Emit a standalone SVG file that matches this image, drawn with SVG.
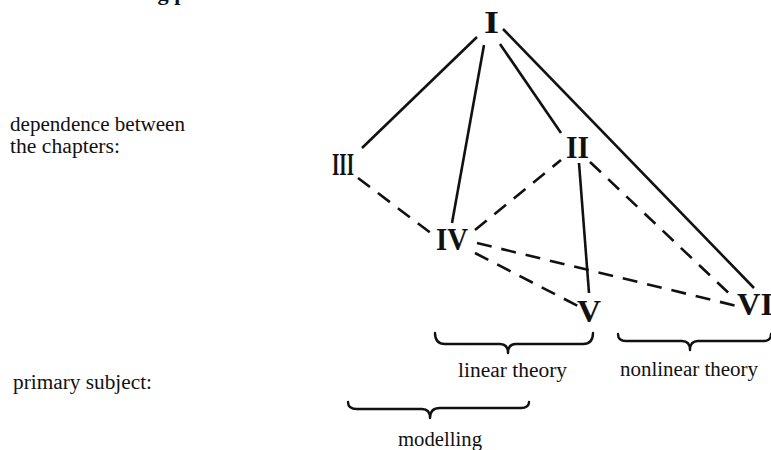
<svg xmlns="http://www.w3.org/2000/svg" width="771" height="450" viewBox="0 0 771 450">
  <style>
    .lbl { font-family: "Liberation Serif", "Times New Roman", serif; font-size: 20px; fill: #111; }
    .num { font-family: "Liberation Serif", "Times New Roman", serif; font-size: 31px; font-weight: bold; fill: #111; }
    .solid { stroke: #111; stroke-width: 2.6; fill: none; stroke-linecap: butt; }
    .dash { stroke: #111; stroke-width: 2.6; fill: none; stroke-dasharray: 15 10; }
    .brace { stroke: #111; stroke-width: 2.4; fill: none; stroke-linejoin: round; stroke-linecap: round; }
  </style>
  <rect width="771" height="450" fill="#fff"/>
  <text x="5" y="0" font-family="Liberation Serif, serif" font-size="20" font-weight="bold" fill="#111" textLength="210" lengthAdjust="spacingAndGlyphs">Hints for reading part</text>

  <g id="connectors">
    <line class="solid" x1="477" y1="37" x2="362" y2="148"/>
    <line class="solid" x1="484" y1="45" x2="452" y2="223"/>
    <line class="solid" x1="500" y1="44" x2="561" y2="133"/>
    <line class="solid" x1="503" y1="29" x2="754" y2="288"/>
    <line class="solid" x1="579" y1="163" x2="589" y2="293"/>
    <line class="dash" x1="358" y1="178" x2="436" y2="237"/>
    <line class="dash" x1="475" y1="230" x2="561" y2="160"/>
    <line class="dash" x1="590" y1="162" x2="735" y2="299"/>
    <line class="dash" x1="477" y1="243" x2="737" y2="306"/>
    <line class="dash" x1="475" y1="253" x2="578" y2="306"/>
  </g>

  <g id="node-I"><text class="num" x="484" y="33" textLength="15" lengthAdjust="spacingAndGlyphs">I</text></g>
  <g id="node-II"><text class="num" x="566" y="158" textLength="23" lengthAdjust="spacingAndGlyphs">II</text></g>
  <g id="node-III"><text class="num" x="332" y="175" textLength="22" lengthAdjust="spacingAndGlyphs">III</text></g>
  <g id="node-IV"><text class="num" x="436" y="250" textLength="32" lengthAdjust="spacingAndGlyphs">IV</text></g>
  <g id="node-V"><text class="num" x="577" y="322" textLength="24" lengthAdjust="spacingAndGlyphs">V</text></g>
  <g id="node-VI"><text class="num" x="737" y="315" textLength="36" lengthAdjust="spacingAndGlyphs">VI</text></g>

  <g id="braces">
    <path class="brace" d="M435,333 Q435,344 445,344 L500,344 Q508,344 508,353 Q508,344 516,344 L583,344 Q593,344 593,333"/>
    <path class="brace" d="M618,334 Q618,341 626,341 L682,341 Q690,341 690,350 Q690,341 698,341 L764,341 Q771,341 771,334"/>
    <path class="brace" d="M348,402 Q348,409 357,409 L422,409 Q430,409 430,418 Q430,408 440,408 L521,408 Q529,408 529,402"/>
  </g>

  <g id="labels">
    <text class="lbl" x="10" y="131" textLength="175" lengthAdjust="spacingAndGlyphs">dependence between</text>
    <text class="lbl" x="10" y="153" textLength="110" lengthAdjust="spacingAndGlyphs">the chapters:</text>
    <text class="lbl" x="13" y="389" textLength="139" lengthAdjust="spacingAndGlyphs">primary subject:</text>
    <text class="lbl" x="458" y="377" textLength="109" lengthAdjust="spacingAndGlyphs">linear theory</text>
    <text class="lbl" x="620" y="376" textLength="138" lengthAdjust="spacingAndGlyphs">nonlinear theory</text>
    <text class="lbl" x="398" y="446" textLength="84" lengthAdjust="spacingAndGlyphs">modelling</text>
  </g>
</svg>
